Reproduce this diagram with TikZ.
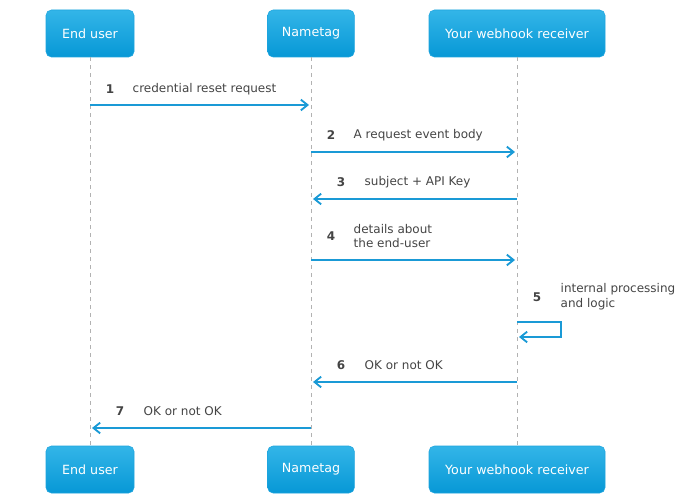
\documentclass[tikz,border=0pt]{standalone}
\usepackage{fontspec}
\setmainfont{DejaVu Sans}
\usetikzlibrary{arrows.meta}
\definecolor{blu}{HTML}{1DA4DE}
\definecolor{blt}{HTML}{33B5E8}
\definecolor{bld}{HTML}{0798D6}
\definecolor{arr}{HTML}{1A9AD6}
\definecolor{txt}{HTML}{444444}
\begin{document}
\begin{tikzpicture}[x=0.75pt,y=-0.75pt,
  part/.style={rounded corners=4pt,top color=blt,bottom color=bld,draw=blu,minimum height=35.25pt,text=white,font=\fontsize{9.5}{11}\selectfont},
  life/.style={draw=gray!60,dashed,line width=0.6pt},
  msg/.style={draw=arr,line width=1.6pt,-{Straight Barb[length=5pt,width=8pt,line width=1.4pt]}},
  num/.style={font=\bfseries\fontsize{9}{11}\selectfont,text=txt},
  lab/.style={font=\fontsize{9}{11}\selectfont,text=txt,align=left,anchor=west}]
\useasboundingbox (0,0) rectangle (693,503);
\node[part,minimum width=66pt] (eu) at (90,33.5) {End user};
\node[part,minimum width=65pt] (nt) at (311,33.5) {Nametag};
\node[part,minimum width=132pt] (wh) at (517,33.5) {Your webhook receiver};
\node[part,minimum width=66pt] (eu2) at (90,469.5) {End user};
\node[part,minimum width=65pt] (nt2) at (311,469.5) {Nametag};
\node[part,minimum width=132pt] (wh2) at (517,469.5) {Your webhook receiver};
\draw[life] (eu) -- (eu2);
\draw[life] (nt) -- (nt2);
\draw[life] (wh) -- (wh2);
\coordinate (a1) at (90,105); \coordinate (b1) at (309,105);
\draw[msg] (a1) -- (b1);
\node[num] (n1) at (110,89) {1}; \node[lab] (l1) at (128,89) {credential reset request};
\coordinate (a2) at (311,152); \coordinate (b2) at (515,152);
\draw[msg] (a2) -- (b2);
\node[num] (n2) at (331,135) {2}; \node[lab] (l2) at (349,135) {A request event body};
\coordinate (a3) at (517,199); \coordinate (b3) at (313,199);
\draw[msg] (a3) -- (b3);
\node[num] (n3) at (341,182) {3}; \node[lab] (l3) at (360,182) {subject + API Key};
\coordinate (a4) at (311,260); \coordinate (b4) at (515,260);
\draw[msg] (a4) -- (b4);
\node[num] (n4) at (331,236) {4}; \node[lab] (l4) at (349,236) {details about\\the end-user};
\coordinate (a5) at (517,322); \coordinate (c5) at (561,322); \coordinate (d5) at (561,337); \coordinate (b5) at (519,337);
\draw[msg] (a5) -- (c5) -- (d5) -- (b5);
\node[num] (n5) at (537,297) {5}; \node[lab] (l5) at (556,297) {internal processing\\and logic};
\coordinate (a6) at (517,382); \coordinate (b6) at (313,382);
\draw[msg] (a6) -- (b6);
\node[num] (n6) at (341,365) {6}; \node[lab] (l6) at (360,365) {OK or not OK};
\coordinate (a7) at (311,428); \coordinate (b7) at (92,428);
\draw[msg] (a7) -- (b7);
\node[num] (n7) at (120,411) {7}; \node[lab] (l7) at (139,411) {OK or not OK};
\end{tikzpicture}
\end{document}
